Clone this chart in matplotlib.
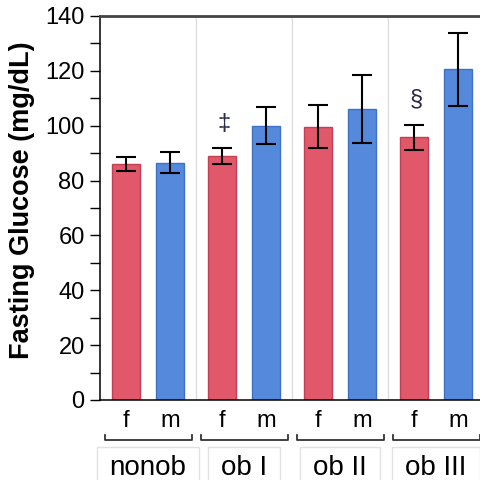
import numpy as np
import matplotlib
matplotlib.use("Agg")
import matplotlib.pyplot as plt
import matplotlib.transforms as mtransforms
from matplotlib.patches import Rectangle

plt.rcParams['font.family'] = ['Liberation Sans', 'DejaVu Sans']

# data
groups = ["nonob", "ob I", "ob II", "ob III"]
sexes = ["f", "m"]
female_mean = [86, 89, 99.6, 95.8]
female_err = [2.5, 2.8, 7.8, 4.6]
male_mean = [86.5, 100, 106, 120.5]
male_err = [3.8, 6.8, 12.4, 13.2]
marks = {1: "\u2021", 3: "\u00a7"}   # group index -> symbol over the female bar
mark_y = {1: 100.5, 3: 109.5}

red = "#E05869"
red_edge = "#C54052"
blue = "#5589DC"
blue_edge = "#3C72C8"

fig = plt.figure(figsize=(4.8, 4.8), dpi=100)
ax = fig.add_axes([100 / 480, 80 / 480, 384 / 480, 384 / 480])

x = np.arange(len(groups))
off = 0.23
w = 0.29

# light separators between groups
for s in x[:-1] + 0.5:
    ax.axvline(s, color="#DDDDDD", lw=1, zorder=0)

ax.bar(x - off, female_mean, w, color=red, edgecolor=red_edge, lw=1, zorder=2)
ax.bar(x + off, male_mean, w, color=blue, edgecolor=blue_edge, lw=1, zorder=2)
ax.errorbar(x - off, female_mean, yerr=female_err, fmt="none", ecolor="black",
            elinewidth=1.5, capsize=7.5, capthick=1.5, zorder=3)
ax.errorbar(x + off, male_mean, yerr=male_err, fmt="none", ecolor="black",
            elinewidth=1.5, capsize=7.5, capthick=1.5, zorder=3)

for g, sym in marks.items():
    ax.text(g - off + 0.02, mark_y[g], sym, ha="center", va="center",
            fontsize=17, color="#2A2A4A")

ax.set_xlim(-0.5, 3.5)
ax.set_ylim(0, 140)
ax.set_yticks(np.arange(0, 141, 20))
ax.set_yticks(np.arange(10, 140, 20), minor=True)
ax.tick_params(axis="y", which="both", length=7, width=1, labelsize=17, pad=4)
ax.set_xticks([])

ax.spines["right"].set_visible(False)
ax.spines["top"].set_color("#444444")
ax.spines["top"].set_linewidth(2)
ax.spines["left"].set_linewidth(1.1)
ax.spines["bottom"].set_linewidth(1.1)

ax.set_ylabel("Fasting Glucose (mg/dL)", fontsize=19.5, fontweight="bold")
ax.yaxis.set_label_coords(-0.17, 0.52)

# f / m labels, brackets and group boxes below the axis
trans = mtransforms.blended_transform_factory(ax.transData, ax.transAxes)
labels = []
for i, gname in enumerate(groups):
    ax.text(i - off, -0.055, sexes[0], transform=trans, ha="center", va="center",
            fontsize=17, clip_on=False)
    ax.text(i + off, -0.055, sexes[1], transform=trans, ha="center", va="center",
            fontsize=17, clip_on=False)
    xl, xr = i - 0.45, i + 0.46
    ax.plot([xl, xl, xr, xr], [-0.092, -0.104, -0.104, -0.092], transform=trans,
            color="#333333", lw=1.3, clip_on=False)
    labels.append(ax.text(i, -0.176, gname, transform=trans, ha="center",
                          va="center", fontsize=20, clip_on=False))

# boxes round the group names, cut by the bottom edge like the original
fig.canvas.draw()
r = fig.canvas.get_renderer()
for t in labels:
    bb = t.get_window_extent(r)
    pad = 13
    fig.add_artist(Rectangle((bb.x0 - pad, -4), bb.width + 2 * pad, 37,
                             transform=None, fill=False, ec="#E2E2E2", lw=1))

fig.savefig("out.png", dpi=100)
